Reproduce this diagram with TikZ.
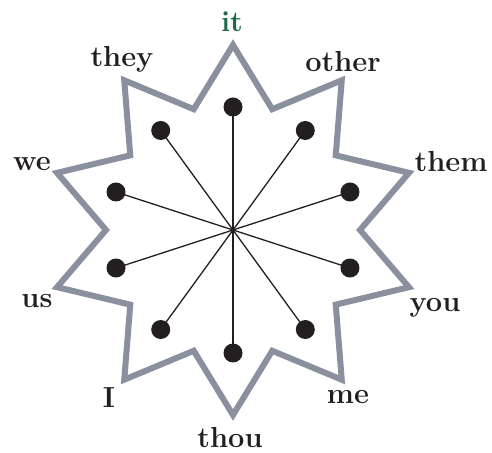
\documentclass[tikz,border=0pt]{standalone}
\usepackage{xcolor}
\definecolor{starGray}{RGB}{139, 144, 158}
\definecolor{itGreen}{RGB}{30, 105, 70}
\definecolor{dotBlack}{RGB}{35, 31, 32}
\usepackage{tikz}
\usetikzlibrary{positioning}

\begin{document}
\begin{tikzpicture}[
    x=1pt, y=1pt,
    starLine/.style={
        draw=starGray, line width=6pt, line join=miter
    },
    spoke/.style={
        draw=dotBlack, line width=1.3pt
    },
    endDot/.style={
        circle, fill=dotBlack, inner sep=0pt, minimum size=19pt
    },
    word/.style={
        font=\fontsize{29}{32}\selectfont\bfseries, text=dotBlack,
        anchor=base, inner sep=0pt
    }
]
    \useasboundingbox (0,0) rectangle (492,452);

    % Centre of the star
    \coordinate (c) at (233,222);

    % Star outline
    \draw[starLine, shift={(c)}] (90:185)
        \foreach \a in {72,36,...,-252} {
            -- (\a:127) -- (\a-18:185)
        } -- cycle;

    % Dots at the spoke ends
    \begin{scope}[shift={(c)}]
        \node[endDot] (dIt)    at (90:123)   {};
        \node[endDot] (dOther) at (54:123)   {};
        \node[endDot] (dThem)  at (18:123)   {};
        \node[endDot] (dYou)   at (-18:123)  {};
        \node[endDot] (dMe)    at (-54:123)  {};
        \node[endDot] (dThou)  at (-90:123)  {};
        \node[endDot] (dI)     at (-126:123) {};
        \node[endDot] (dUs)    at (-162:123) {};
        \node[endDot] (dWe)    at (162:123)  {};
        \node[endDot] (dThey)  at (126:123)  {};
    \end{scope}

    % Spokes
    \foreach \d in {dIt,dOther,dThem,dYou,dMe,dThou,dI,dUs,dWe,dThey} {
        \draw[spoke] (c) -- (\d.center);
    }

    % Labels
    \node[word, text=itGreen] (lIt) at (232,420) {it};
    \node[word] (lOther) at (343,380) {other};
    \node[word] (lThem)  at (451,280) {them};
    \node[word] (lYou)   at (435,140) {you};
    \node[word] (lMe)    at (348,48)  {me};
    \node[word] (lThou)  at (230,5)   {thou};
    \node[word] (lI)     at (109,45)  {I};
    \node[word] (lUs)    at (37,144)  {us};
    \node[word] (lWe)    at (32,281)  {we};
    \node[word] (lThey)  at (122,385) {they};

\end{tikzpicture}
\end{document}
